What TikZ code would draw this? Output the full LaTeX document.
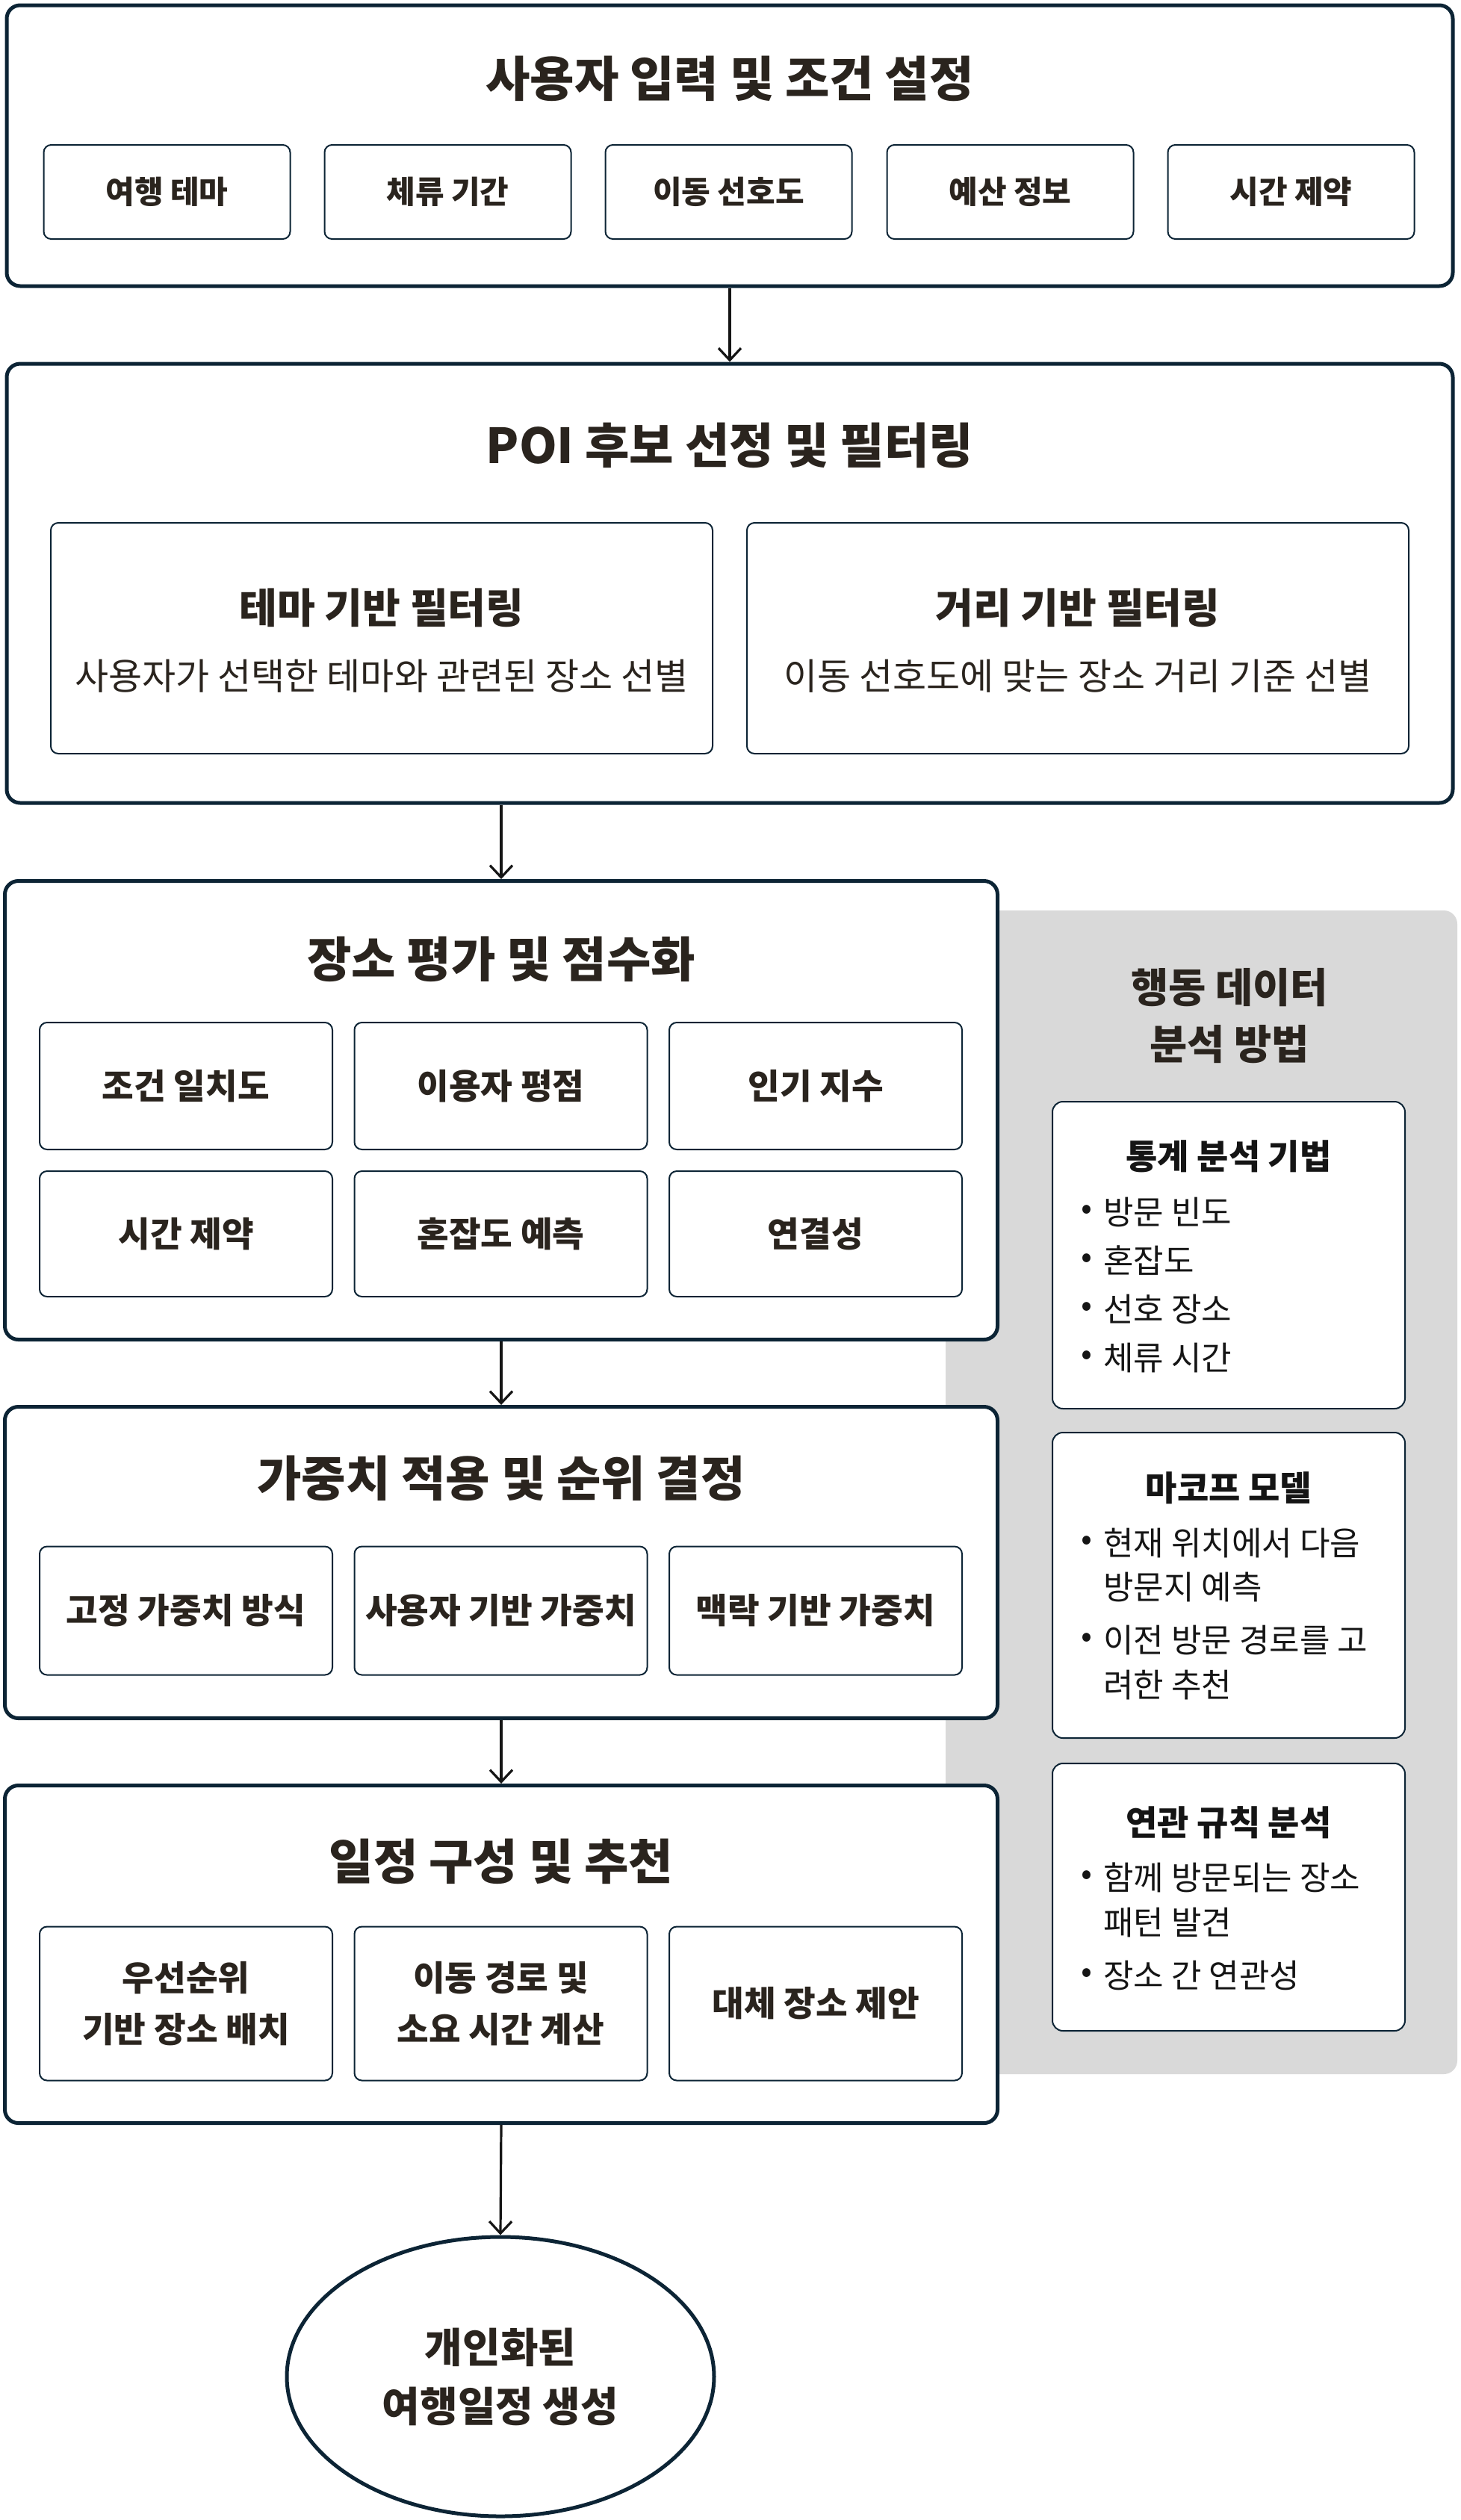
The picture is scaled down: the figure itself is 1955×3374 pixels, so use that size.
\documentclass[tikz,border=0pt]{standalone}
\usepackage{fontspec}
\setmainfont{Noto Sans CJK KR}
\usetikzlibrary{arrows.meta,shapes.geometric}
\definecolor{navy}{HTML}{0C2435}
\definecolor{ink}{HTML}{2A241E}
\definecolor{dark}{HTML}{151515}
\definecolor{panelgray}{HTML}{D9D9D9}
\begin{document}
\begin{tikzpicture}[x=0.5pt,y=-0.5pt,
  outerbox/.style={draw=navy, line width=2.5pt, rounded corners=9pt, fill=white, inner sep=0pt},
  inbox/.style={draw=navy, line width=1pt, rounded corners=5pt, fill=white, inner sep=0pt},
  pbox/.style={draw=navy, line width=1pt, rounded corners=7pt, fill=white, inner sep=0pt, minimum width=236pt},
  panelbox/.style={fill=panelgray, rounded corners=9pt, inner sep=0pt},
  title/.style={text=ink, font=\bfseries\fontsize{32.3}{38}\selectfont, inner sep=0pt},
  lab/.style={text=ink, font=\bfseries\fontsize{23.2}{34.5}\selectfont, align=center},
  lab1/.style={inbox, text=ink, font=\bfseries\fontsize{21}{25}\selectfont, minimum width=165pt, minimum height=63pt},
  gbox/.style={inbox, lab, minimum width=196pt},
  subtitle/.style={text=ink, font=\bfseries\fontsize{27.6}{32}\selectfont, inner sep=0pt},
  desc/.style={text=ink, font=\fontsize{24.5}{29}\selectfont, inner sep=0pt},
  ptitle/.style={text=ink, font=\bfseries\fontsize{27.3}{38}\selectfont, align=center, inner sep=0pt},
  btitle/.style={text=dark, font=\bfseries\fontsize{23}{27}\selectfont, inner sep=0pt},
  bul/.style={text=dark, font=\fontsize{22}{26}\selectfont, inner sep=0pt},
  itm/.style={text=dark, font=\fontsize{22}{26}\selectfont, inner sep=0pt, anchor=west},
  arr/.style={draw=dark, line width=1.6pt, -{Straight Barb[length=8pt,width=15pt,line width=1.6pt]}}
]
\useasboundingbox (0,0) rectangle (1955,3374);

% ---- Box 1
\node[outerbox, minimum width=968pt, minimum height=188pt] (in) at (977,195) {};
\node[title] (inT) at (977,105) {사용자 입력 및 조건 설정};
\node[lab1] (i1) at (223.5,257) {여행 테마};
\node[lab1] (i2) at (599.5,257) {체류 기간};
\node[lab1] (i3) at (975.5,257) {이동 선호도};
\node[lab1] (i4) at (1352.5,257) {예산 정보};
\node[lab1] (i5) at (1728.5,257) {시간 제약};

% ---- Box 2
\node[outerbox, minimum width=968pt, minimum height=294pt] (poi) at (977,781) {};
\node[title] (poiT) at (977,596) {POI 후보 선정 및 필터링};
\node[inbox, minimum width=443pt, minimum height=154.5pt] (f1) at (511,854.5) {};
\node[subtitle] (f1T) at (511,814) {테마 기반 필터링};
\node[desc] (f1D) at (511,905) {사용자가 선택한 테마와 관련된 장소 선별};
\node[inbox, minimum width=443pt, minimum height=154.5pt] (f2) at (1443,854.5) {};
\node[subtitle] (f2T) at (1443,814) {거리 기반 필터링};
\node[desc] (f2D) at (1443,905) {이동 선호도에 맞는 장소 거리 기준 선별};

% ---- Side panel
\node[panelbox, minimum width=342.5pt, minimum height=779pt] (panel) at (1608.5,1998) {};

% ---- Box 3
\node[outerbox, minimum width=664.5pt, minimum height=307pt] (eval) at (671,1486.5) {};
\node[title] (evalT) at (671,1284) {장소 평가 및 점수화};
\node[gbox, minimum height=85pt] (e1) at (249,1454) {조건 일치도};
\node[gbox, minimum height=85pt] (e2) at (670.5,1454) {이용자 평점};
\node[gbox, minimum height=85pt] (e3) at (1092,1454) {인기 지수};
\node[gbox, minimum height=84pt] (e4) at (249,1652) {시간 제약};
\node[gbox, minimum height=84pt] (e5) at (670.5,1652) {혼잡도 예측};
\node[gbox, minimum height=84pt] (e6) at (1092,1652) {연결성};

% ---- Box 4
\node[outerbox, minimum width=664.5pt, minimum height=208.5pt] (wt) at (671,2092) {};
\node[title] (wtT) at (671,1979) {가중치 적용 및 순위 결정};
\node[gbox, minimum height=86pt] (w1) at (249,2156.5) {고정 가중치 방식};
\node[gbox, minimum height=86pt] (w2) at (670.5,2156.5) {사용자 기반 가중치};
\node[gbox, minimum height=86pt] (w3) at (1092,2156.5) {맥락 기반 가중치};

% ---- Box 5
\node[outerbox, minimum width=664.5pt, minimum height=226pt] (sched) at (671,2616.5) {};
\node[title] (schedT) at (671,2492) {일정 구성 및 추천};
\node[gbox, minimum height=103pt] (s1) at (249,2682.5) {우선순위\\기반 장소 배치};
\node[gbox, minimum height=103pt] (s2) at (670.5,2682.5) {이동 경로 및\\소요 시간 계산};
\node[gbox, minimum height=103pt] (s3) at (1092,2682.5) {대체 장소 제안};

% ---- Output ellipse
\node[ellipse, draw=navy, line width=2.5pt, fill=white, inner sep=0pt,
      minimum width=286pt, minimum height=187pt, text=ink, align=center,
      font=\bfseries\fontsize{27.5}{39.5}\selectfont] (out) at (670,3182) {개인화된\\여행일정 생성};

% ---- Panel content
\node[ptitle] (pT) at (1646,1360) {행동 데이터\\분석 방법};

\node[pbox, minimum height=205.5pt] (pa) at (1645,1680.5) {};
\node[btitle] (paT) at (1645,1548) {통계 분석 기법};
\node[bul] (pa1b) at (1455,1623) {•};
\node[itm] (pa1) at (1477,1623) {방문 빈도};
\node[bul] (pa2b) at (1455,1688) {•};
\node[itm] (pa2) at (1477,1688) {혼잡도};
\node[bul] (pa3b) at (1455,1753) {•};
\node[itm] (pa3) at (1477,1753) {선호 장소};
\node[bul] (pa4b) at (1455,1818) {•};
\node[itm] (pa4) at (1477,1818) {체류 시간};

\node[pbox, minimum height=204.5pt] (pb) at (1645,2122.5) {};
\node[btitle] (pbT) at (1645,1992) {마코프 모델};
\node[bul] (pb1b) at (1455,2066) {•};
\node[itm] (pb1) at (1477,2066) {현재 위치에서 다음};
\node[itm] (pb1c) at (1477,2125) {방문지 예측};
\node[bul] (pb2b) at (1455,2196) {•};
\node[itm] (pb2) at (1477,2196) {이전 방문 경로를 고};
\node[itm] (pb2c) at (1477,2256) {려한 추천};

\node[pbox, minimum height=179pt] (pc) at (1645,2540) {};
\node[btitle] (pcT) at (1645,2440) {연관 규칙 분석};
\node[bul] (pc1b) at (1455,2514) {•};
\node[itm] (pc1) at (1477,2514) {함께 방문되는 장소};
\node[itm] (pc1c) at (1477,2574) {패턴 발견};
\node[bul] (pc2b) at (1455,2645) {•};
\node[itm] (pc2) at (1477,2645) {장소 간 연관성};

% ---- Arrows
\draw[arr] (in.south) -- (poi.north);
\draw[arr] (eval.north |- poi.south) -- (eval.north);
\draw[arr] (eval.south) -- (wt.north);
\draw[arr] (wt.south) -- (sched.north);
\draw[arr] (sched.south) -- (out.north);
\end{tikzpicture}
\end{document}
